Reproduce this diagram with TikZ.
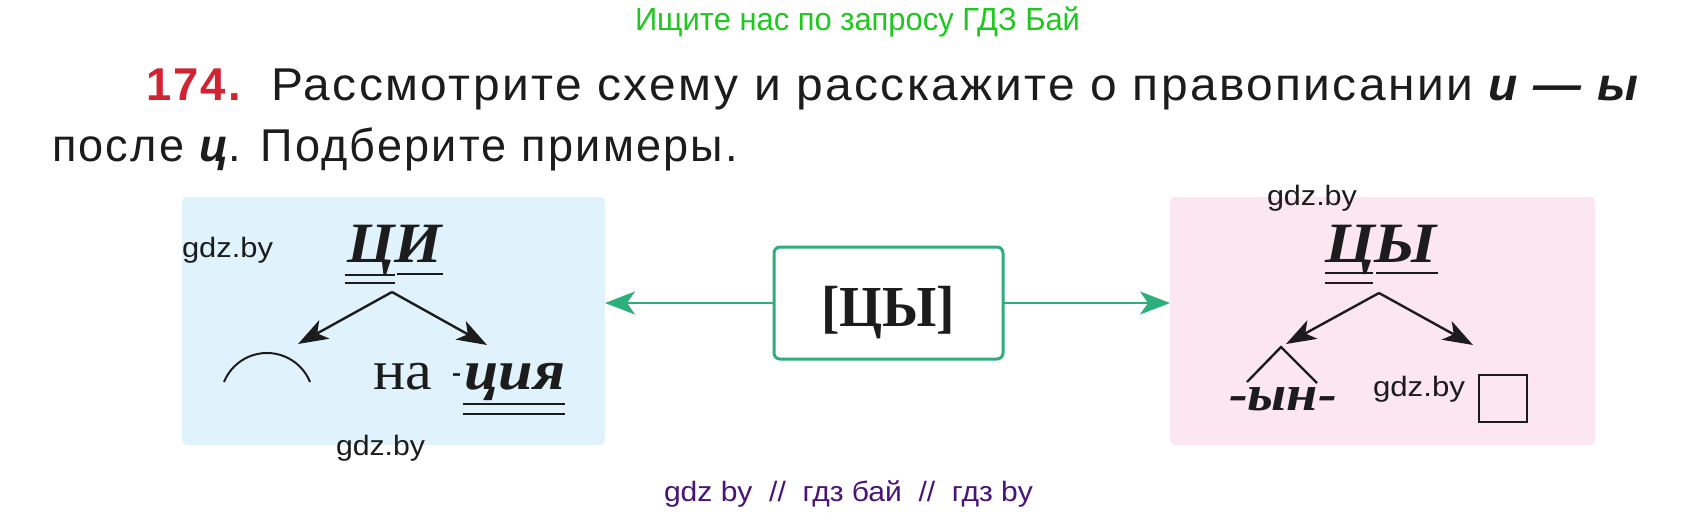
\documentclass[tikz,border=0pt]{standalone}
\usepackage{fontspec}
\usepackage{graphicx}
\usetikzlibrary{arrows.meta}
\setmainfont{Liberation Serif}
\setsansfont{Liberation Sans}
\newfontfamily\taskfont[LetterSpace=5]{Liberation Sans}
\newfontfamily\wmfont{Liberation Sans}
\definecolor{wmgreen}{RGB}{30,200,30}
\definecolor{taskred}{RGB}{210,35,50}
\definecolor{boxgreen}{RGB}{45,175,125}
\definecolor{panelblue}{RGB}{224,242,252}
\definecolor{panelpink}{RGB}{252,231,240}
\definecolor{wmpurple}{RGB}{72,20,120}
\definecolor{ink}{RGB}{28,28,28}
\newcommand{\fitw}[2]{\resizebox{#1}{\height}{#2}}
\begin{document}
\begin{tikzpicture}[x=1pt,y=-1pt,
  txt/.style={inner sep=0pt,outer sep=0pt,anchor=base west},
  panel/.style={rectangle,rounded corners=5pt,inner sep=0pt,outer sep=0pt,draw=none},
  wm/.style={txt,text=ink},
  garrow/.style={draw=boxgreen,line width=2.5pt,-{Stealth[length=30pt,width=23pt,inset=8pt]}},
  barrow/.style={draw=ink,line width=2.4pt,-{Stealth[length=30pt,width=21pt,inset=8pt]}},
  uline/.style={draw=ink,line width=2.4pt},
  bi/.style={txt,text=ink,font=\bfseries\itshape}
]
\useasboundingbox (0,0) rectangle (1701,512);
\fill[white] (0,0) rectangle (1701,512);

% header
\node[txt,text=wmgreen] (top) at (635,30) {\fitw{445pt}{\wmfont\fontsize{32}{32}\selectfont Ищите нас по запросу ГДЗ Бай}};
\node[txt,text=taskred] (num) at (146,100) {\fitw{95pt}{\taskfont\bfseries\fontsize{46}{46}\selectfont 174.}};
\node[txt,text=ink] (l1) at (271,100) {\fitw{1367pt}{\taskfont\fontsize{46}{46}\selectfont Рассмотрите схему и расскажите о правописании {\bfseries\itshape и — ы}}};
\node[txt,text=ink] (l2) at (52,161) {\fitw{686pt}{\taskfont\fontsize{46}{46}\selectfont после {\bfseries\itshape ц}. Подберите примеры.}};

% panels
\node[panel,fill=panelblue,minimum width=423pt,minimum height=248pt] (lp) at (393.5,321) {};
\node[panel,fill=panelpink,minimum width=425pt,minimum height=248pt] (rp) at (1382.5,321) {};

% central box
\node[rectangle,rounded corners=6pt,draw=boxgreen,line width=3pt,minimum width=229pt,minimum height=112pt,inner sep=0pt,outer sep=0pt] (gb) at (888.5,303) {};
\node[inner sep=0pt,outer sep=0pt,anchor=base,text=ink] (gbt) at (888,326) {\fitw{134pt}{\bfseries\fontsize{58}{58}\selectfont [ЦЫ]}};
\draw[garrow] (gb.west) -- (gb.west -| lp.east);
\draw[garrow] (gb.east) -- (gb.east -| rp.west);

% left panel
\node[wm] (wl1) at (182,257) {\fitw{91pt}{\wmfont\fontsize{28}{28}\selectfont gdz.by}};
\node[wm] (wl2) at (336,455) {\fitw{89pt}{\wmfont\fontsize{28}{28}\selectfont gdz.by}};
\node[bi] (ci) at (347,262) {\fitw{95pt}{\fontsize{57}{57}\selectfont ЦИ}};
\draw[uline] (345,275) -- (395,275);
\draw[uline] (345,283) -- (395,283);
\draw[uline] (397,274) -- (443,274);
\coordinate (la) at (392,292);
\coordinate (lt1) at (298,344);
\coordinate (lt2) at (487,345);
\draw[barrow] (la) -- (lt1);
\draw[barrow] (la) -- (lt2);
\draw[draw=ink,line width=2pt] (224,382) arc[start angle=202,end angle=338,radius=46.4];
\node[txt,text=ink] (na) at (373,389) {\fitw{59pt}{\fontsize{56}{56}\selectfont на}};
\node[txt,text=ink] (hy) at (452,383) {\fitw{9pt}{\fontsize{36}{36}\selectfont -}};
\node[bi] (tsia) at (464,389) {\fitw{101pt}{\fontsize{56}{56}\selectfont ция}};
\draw[uline] (463,404) -- (565,404);
\draw[uline] (463,414) -- (565,414);

% right panel
\node[wm] (wr1) at (1267,205) {\fitw{90pt}{\wmfont\fontsize{28}{28}\selectfont gdz.by}};
\node[wm] (wr2) at (1373,396) {\fitw{92pt}{\wmfont\fontsize{28}{28}\selectfont gdz.by}};
\node[bi] (cy) at (1325,262) {\fitw{112pt}{\fontsize{57}{57}\selectfont ЦЫ}};
\draw[uline] (1325,273) -- (1373,273);
\draw[uline] (1325,283) -- (1373,283);
\draw[uline] (1376,273) -- (1438,273);
\coordinate (ra) at (1379,293);
\coordinate (rt1) at (1286,344);
\coordinate (rt2) at (1473,345);
\draw[barrow] (ra) -- (rt1);
\draw[barrow] (ra) -- (rt2);
\draw[draw=ink,line width=2.4pt] (1247,382) -- (1281,347) -- (1317,383);
\node[bi] (yn) at (1229,410) {\fitw{108pt}{\fontsize{50}{50}\selectfont -ын-}};
\node[rectangle,draw=ink,line width=2pt,minimum width=48pt,minimum height=47pt,inner sep=0pt] (sq) at (1503,398) {};

% footer
\node[txt,text=wmpurple] (bot) at (664,501) {\fitw{369pt}{\wmfont\fontsize{28}{28}\selectfont gdz by\ \ //\ \ гдз бай\ \ //\ \ гдз by}};
\end{tikzpicture}
\end{document}
